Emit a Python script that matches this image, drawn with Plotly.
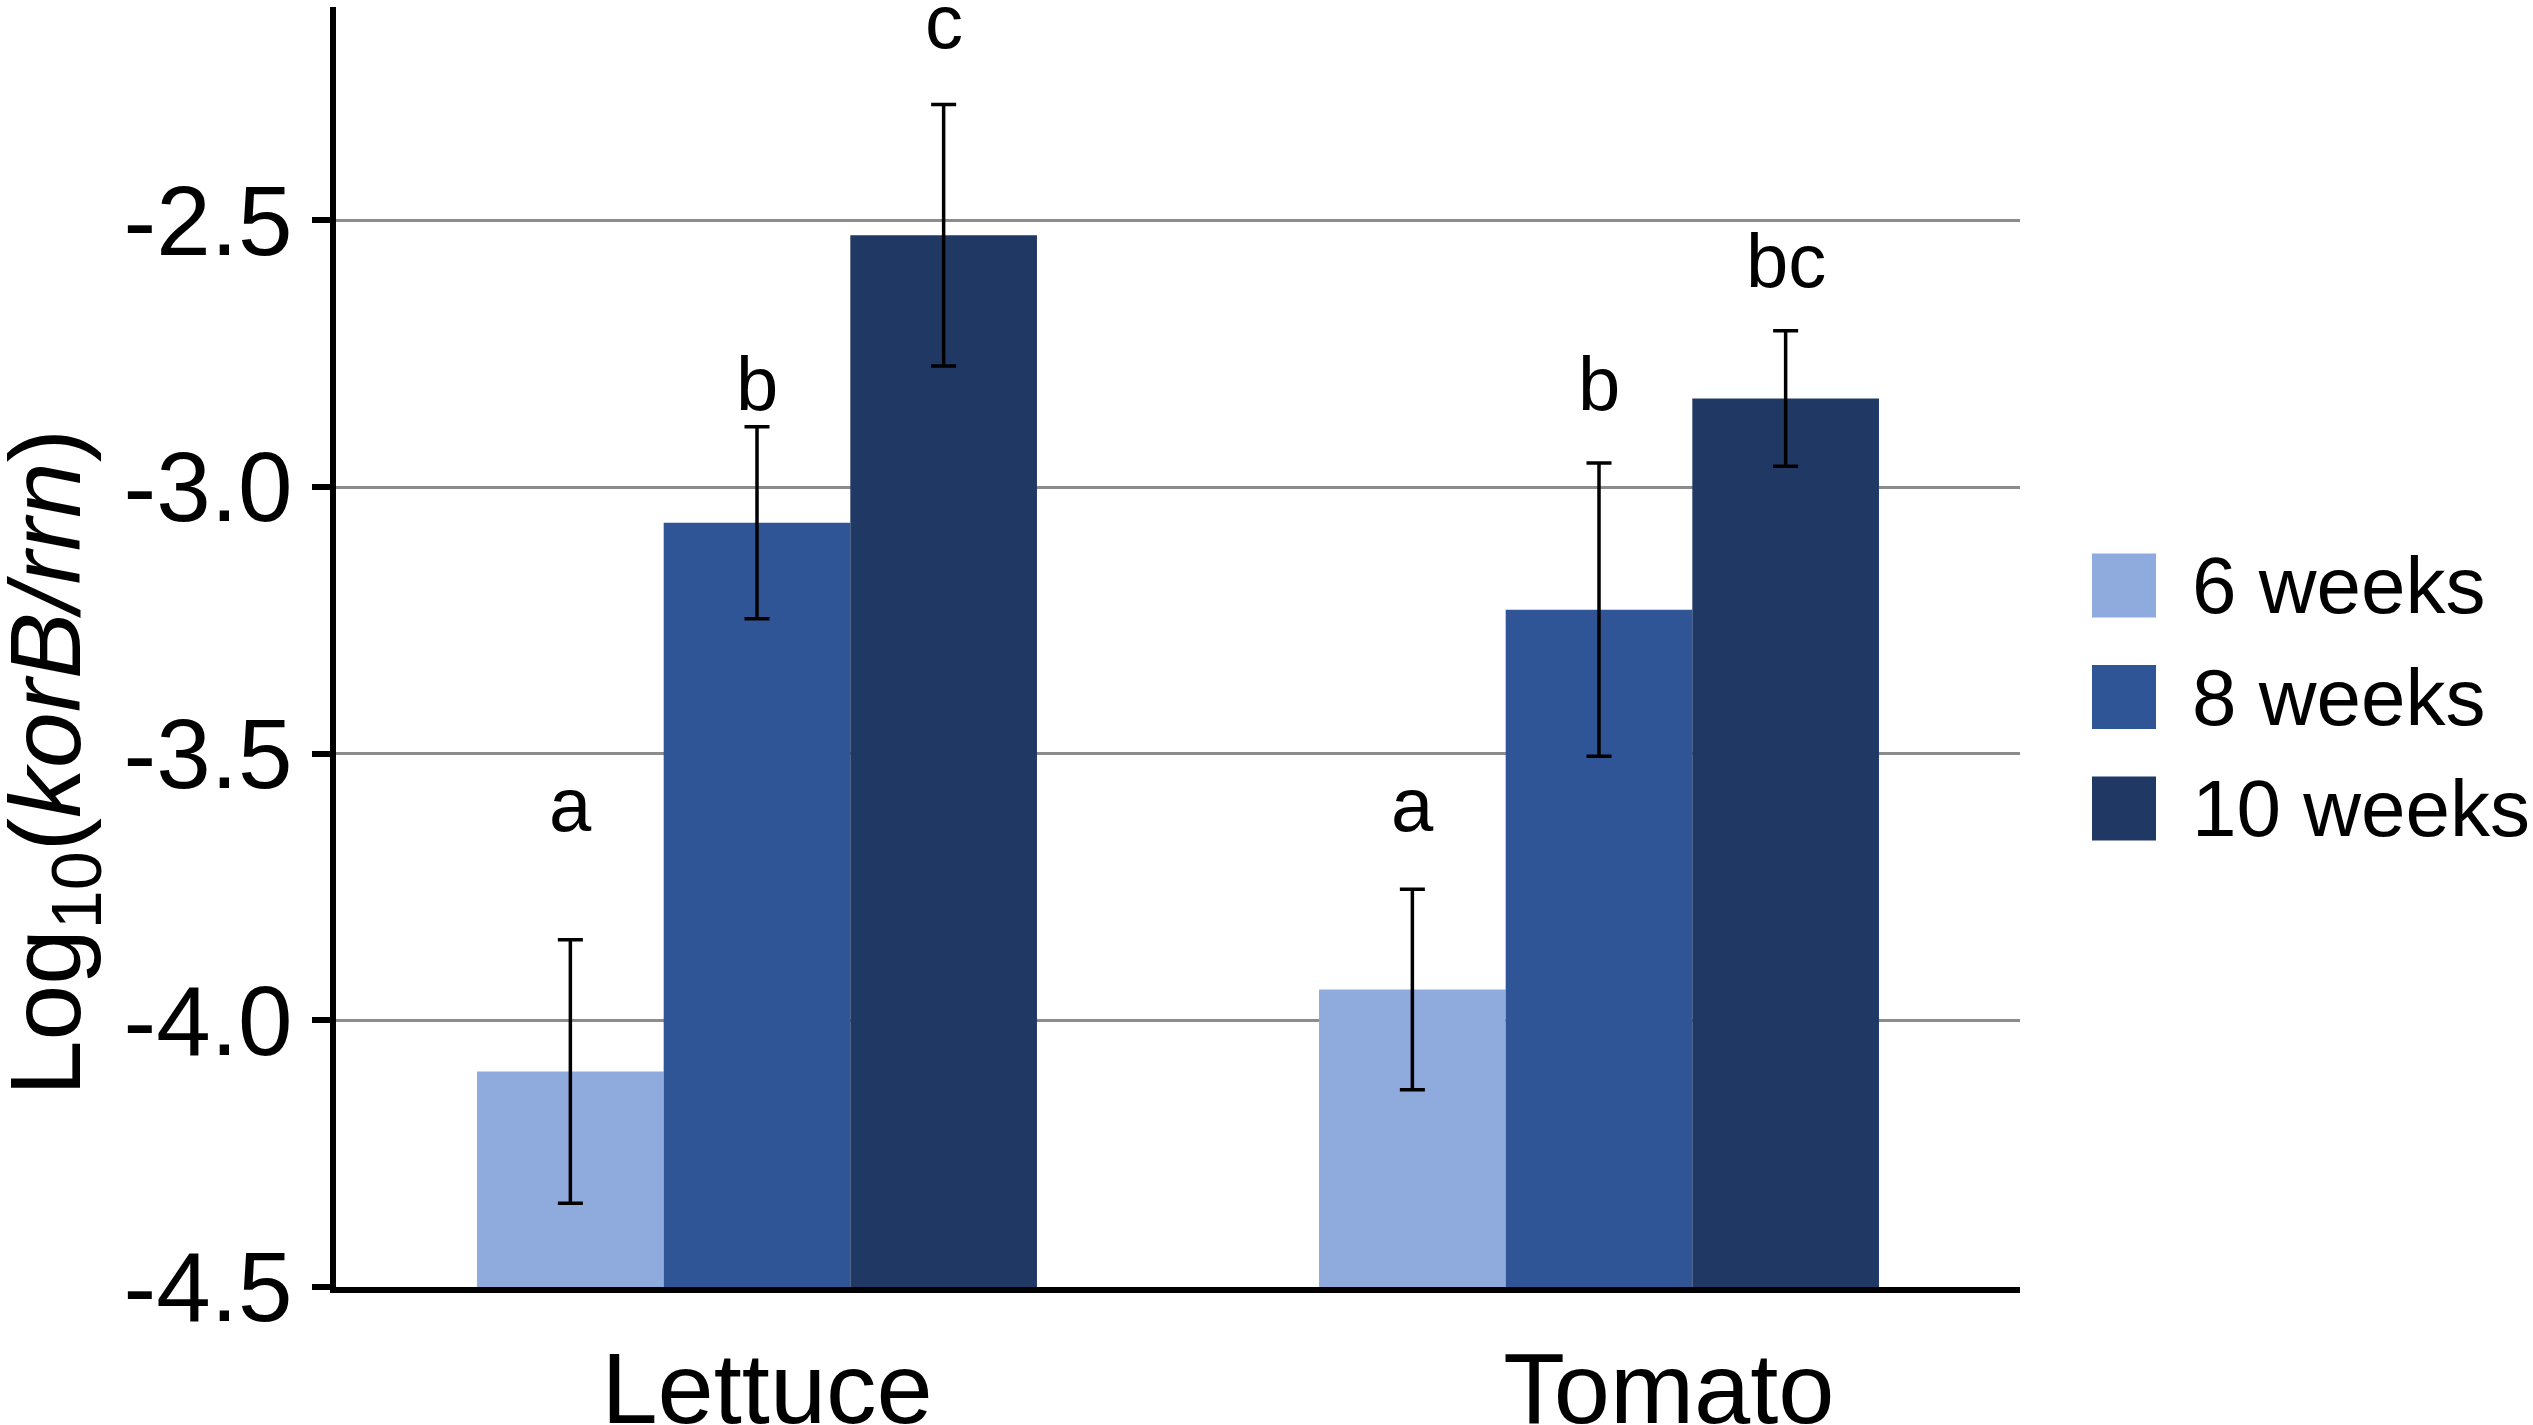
import plotly.graph_objects as go

# data
crops = ['Lettuce', 'Tomato']
series = ['6 weeks', '8 weeks', '10 weeks']
colors = ['#8FAADC', '#2F5597', '#203864']

mean_6w = [-4.096, -3.942]
mean_8w = [-3.067, -3.230]
mean_10w = [-2.528, -2.834]

err_6w = [0.247, 0.188]
err_8w = [0.180, 0.275]
err_10w = [0.245, 0.127]

# significance letters and the height of their baseline (axis units)
letters_6w = ['a', 'a']
letters_8w = ['b', 'b']
letters_10w = ['c', 'bc']
letter_y_6w = [-3.647, -3.647]
letter_y_8w = [-2.858, -2.858]
letter_y_10w = [-2.179, -2.626]

y_ticks = [-4.5, -4.0, -3.5, -3.0, -2.5]
y_tick_labels = ['-4.5', '-4.0', '-3.5', '-3.0', '-2.5']

means = [mean_6w, mean_8w, mean_10w]
errs = [err_6w, err_8w, err_10w]
letters = [letters_6w, letters_8w, letters_10w]
letter_y = [letter_y_6w, letter_y_8w, letter_y_10w]

BASE = -4.5
FONT = 'Arial, Liberation Sans, sans-serif'
W, H = 2533, 1425
L, R, T, B = 336, 2020, 7, 1287   # plot area in pixels
BARGAP = 0.335
CAT_LABEL_SHIFT = [0.012, 0.083]  # the category names sit a little right of the groups


def px_x(p):
    return (p - L) / (R - L)


def px_y(p):
    return (B - p) / (B - T)


fig = go.Figure()
for i, name in enumerate(series):
    fig.add_trace(go.Bar(
        x=crops,
        y=[m - BASE for m in means[i]],
        base=BASE,
        name=name,
        marker=dict(color=colors[i], line=dict(width=0)),
        error_y=dict(type='data', array=errs[i], visible=True,
                     color='black', thickness=3.5, width=12.5),
        showlegend=False,
    ))

bar_w = (1 - BARGAP) / len(series)
annotations = []
for i in range(len(series)):
    for g in range(len(crops)):
        annotations.append(dict(
            x=g + (i - 1) * bar_w, y=letter_y[i][g], xref='x', yref='y',
            text=letters[i][g], showarrow=False, yanchor='bottom', yshift=-17,
            font=dict(family=FONT, size=76, color='black')))

# y title
annotations.append(dict(
    x=px_x(52), y=px_y(763), xref='paper', yref='paper',
    text='Log<sub>10</sub>(<i>korB/rrn</i>)', textangle=-90, showarrow=False,
    xanchor='center', yanchor='middle',
    font=dict(family=FONT, size=100, color='black')))

# legend drawn by hand so the swatches can be large
shapes = []
for i, name in enumerate(series):
    cy = 585.5 + i * 111.5
    shapes.append(dict(type='rect', xref='paper', yref='paper',
                       x0=px_x(2092), x1=px_x(2156),
                       y0=px_y(cy + 32), y1=px_y(cy - 32),
                       fillcolor=colors[i], line=dict(width=0)))
    annotations.append(dict(
        x=px_x(2190), y=px_y(cy), xref='paper', yref='paper', text=name,
        showarrow=False, xanchor='left', yanchor='middle',
        font=dict(family=FONT, size=80, color='black')))

fig.update_layout(
    width=W, height=H,
    margin=dict(l=L, r=W - R, t=T, b=H - B, pad=0),
    paper_bgcolor='white', plot_bgcolor='white',
    barmode='group', bargap=BARGAP, bargroupgap=0,
    font=dict(family=FONT, color='black'),
    annotations=annotations, shapes=shapes,
    xaxis=dict(range=[-0.5, 1.5], showline=True, linecolor='black', linewidth=6,
               tickmode='array',
               tickvals=[g + CAT_LABEL_SHIFT[g] for g in range(len(crops))],
               ticktext=crops,
               ticks='', showgrid=False, tickfont=dict(size=101),
               ticklabelstandoff=9, automargin=False),
    yaxis=dict(range=[BASE, -2.1], tickvals=y_ticks, ticktext=y_tick_labels,
               showline=True, linecolor='black', linewidth=6,
               ticks='outside', ticklen=18, tickwidth=6, tickcolor='black',
               showgrid=True, gridcolor='#8C8C8C', gridwidth=3,
               zeroline=False, tickfont=dict(size=98), ticklabelstandoff=0,
               automargin=False),
)

# drop the default page margin so the figure sits at the window corner
fig.write_html('out.html', config={'displayModeBar': False},
               post_script="document.body.style.margin='0';")
